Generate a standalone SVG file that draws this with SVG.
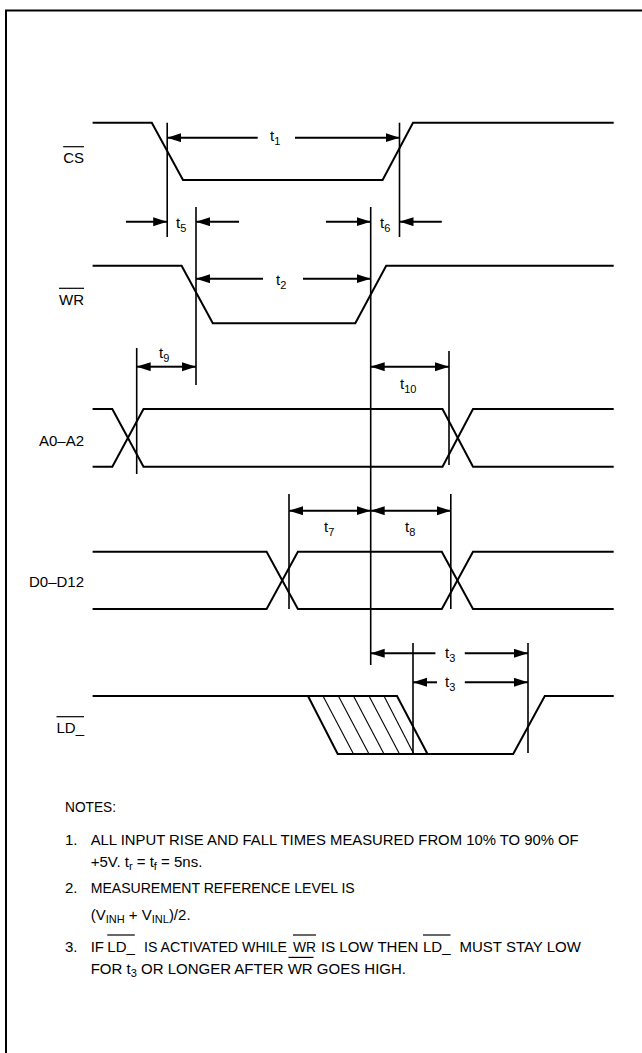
<svg xmlns="http://www.w3.org/2000/svg" width="642" height="1053" viewBox="0 0 642 1053">
<style>
.sig{fill:none;stroke:#000;stroke-width:2;stroke-linejoin:miter}
.ref{stroke:#000;stroke-width:1.6;fill:none}
.dim{stroke:#000;stroke-width:2;marker-end:url(#ah)}
.hat{stroke:#000;stroke-width:1.1;fill:none}
.ov{stroke:#000;stroke-width:1.2}
text{font-family:"Liberation Sans",Arial,Helvetica,sans-serif;fill:#000}
.lbl{font-size:15px;text-anchor:end}
.tk{font-size:15px}
.nt{font-size:15px}
</style>
<defs>
<marker id="ah" markerUnits="userSpaceOnUse" markerWidth="14" markerHeight="10" refX="14" refY="4.5" orient="auto">
<path d="M0,0 L14,4.5 L0,9 Z" fill="#000"/>
</marker>
</defs>
<rect width="642" height="1053" fill="#fff"/>
<path d="M6,1053 V10.5 H642" fill="none" stroke="#000" stroke-width="2"/>

<g id="sig-cs">
<path class="sig" d="M92.6,122.7 H151.8 L183,180 H382.6 L413,122.7 H613.7"/>
<text class="lbl" x="84" y="163.3">CS</text>
<line class="ov" x1="63.2" y1="146.7" x2="84" y2="146.7"/>
</g>
<g id="sig-wr">
<path class="sig" d="M92.6,265.7 H181.6 L212.8,323.3 H355.3 L386.2,265.7 H613.7"/>
<text class="lbl" x="84" y="305">WR</text>
<line class="ov" x1="59" y1="288.3" x2="84" y2="288.3"/>
</g>
<g id="sig-a">
<path class="sig" d="M92.6,409 H112.3 L143.5,466.7 H442.5 L473,409 H613.7"/>
<path class="sig" d="M92.6,466.7 H112.3 L143.5,409 H442.5 L473,466.7 H613.7"/>
<text class="lbl" x="84" y="446">A0–A2</text>
</g>
<g id="sig-d">
<path class="sig" d="M92.6,551.7 H266.6 L297.9,609 H441.8 L473,551.7 H613.7"/>
<path class="sig" d="M92.6,609 H266.6 L297.9,551.7 H441.8 L473,609 H613.7"/>
<text class="lbl" x="84" y="587.3">D0–D12</text>
</g>
<g id="sig-ld">
<path class="sig" d="M92.6,696 H397 L427.5,754"/>
<path class="sig" d="M308,696 L337.7,754 H513.2 L544.8,696 H613.7"/>
<g class="hat">
<line x1="323" y1="696" x2="353.5" y2="754"/>
<line x1="338.4" y1="696" x2="369" y2="754"/>
<line x1="353.5" y1="696" x2="384" y2="754"/>
<line x1="369" y1="696" x2="399.5" y2="754"/>
<line x1="384" y1="696" x2="413.8" y2="754"/>
</g>
<text class="lbl" x="84" y="733">LD_</text>
<line class="ov" x1="56.5" y1="716.7" x2="84" y2="716.7"/>
</g>

<g id="connectors">
<g class="ref">
<line x1="167.2" y1="122.7" x2="167.2" y2="237"/>
<line x1="399.5" y1="122.7" x2="399.5" y2="237"/>
<line x1="196" y1="207" x2="196" y2="385"/>
<line x1="370.7" y1="207" x2="370.7" y2="665"/>
<line x1="136.7" y1="348" x2="136.7" y2="474"/>
<line x1="449" y1="351" x2="449" y2="465"/>
<line x1="289" y1="494" x2="289" y2="609"/>
<line x1="450.8" y1="494" x2="450.8" y2="609"/>
<line x1="413" y1="643" x2="413" y2="754"/>
<line x1="528" y1="643" x2="528" y2="753"/>
</g>
<line class="dim" x1="257.7" y1="137.7" x2="167.2" y2="137.7"/>
<line class="dim" x1="295" y1="137.7" x2="399.5" y2="137.7"/>
<line class="dim" x1="126" y1="221.7" x2="167.2" y2="221.7"/>
<line class="dim" x1="239" y1="221.7" x2="196" y2="221.7"/>
<line class="dim" x1="326" y1="221.7" x2="370.7" y2="221.7"/>
<line class="dim" x1="441.8" y1="221.7" x2="399.5" y2="221.7"/>
<line class="dim" x1="263" y1="278.7" x2="196" y2="278.7"/>
<line class="dim" x1="303" y1="278.7" x2="370.7" y2="278.7"/>
<line class="dim" x1="166" y1="366.7" x2="136.7" y2="366.7"/>
<line class="dim" x1="166" y1="366.7" x2="196" y2="366.7"/>
<line class="dim" x1="410" y1="366.7" x2="370.7" y2="366.7"/>
<line class="dim" x1="410" y1="366.7" x2="449" y2="366.7"/>
<line class="dim" x1="330" y1="510.7" x2="289" y2="510.7"/>
<line class="dim" x1="330" y1="510.7" x2="370.7" y2="510.7"/>
<line class="dim" x1="410" y1="510.7" x2="370.7" y2="510.7"/>
<line class="dim" x1="410" y1="510.7" x2="450.8" y2="510.7"/>
<line class="dim" x1="435.4" y1="653.3" x2="370.7" y2="653.3"/>
<line class="dim" x1="464.8" y1="653.3" x2="528" y2="653.3"/>
<line class="dim" x1="437" y1="682.3" x2="413" y2="682.3"/>
<line class="dim" x1="464.8" y1="682.3" x2="528" y2="682.3"/>
<g class="tk">
<text x="270" y="141">t<tspan dy="3.5" font-size="11">1</tspan></text>
<text x="176" y="228">t<tspan dy="3.5" font-size="11">5</tspan></text>
<text x="380" y="228">t<tspan dy="3.5" font-size="11">6</tspan></text>
<text x="276" y="285">t<tspan dy="3.5" font-size="11">2</tspan></text>
<text x="159" y="358">t<tspan dy="3.5" font-size="11">9</tspan></text>
<text x="400" y="389">t<tspan dy="3.5" font-size="11">10</tspan></text>
<text x="324" y="532">t<tspan dy="3.5" font-size="11">7</tspan></text>
<text x="405" y="532">t<tspan dy="3.5" font-size="11">8</tspan></text>
<text x="445" y="658">t<tspan dy="3.5" font-size="11">3</tspan></text>
<text x="445" y="687">t<tspan dy="3.5" font-size="11">3</tspan></text>
</g>
</g>

<g id="notes" class="nt">
<text x="65" y="811.7" textLength="51" lengthAdjust="spacingAndGlyphs">NOTES:</text>
<text x="65" y="845">1.</text>
<text x="90.7" y="845" textLength="488" lengthAdjust="spacingAndGlyphs">ALL INPUT RISE AND FALL TIMES MEASURED FROM 10% TO 90% OF</text>
<text x="90.7" y="866.7">+5V. t<tspan dy="3" font-size="11">r</tspan><tspan dy="-3"> = t</tspan><tspan dy="3" font-size="11">f</tspan><tspan dy="-3"> = 5ns.</tspan></text>
<text x="65" y="893.3">2.</text>
<text x="90.7" y="893.3" textLength="264" lengthAdjust="spacingAndGlyphs">MEASUREMENT REFERENCE LEVEL IS</text>
<text x="90.7" y="920">(V<tspan dy="3" font-size="11">INH</tspan><tspan dy="-3"> + V</tspan><tspan dy="3" font-size="11">INL</tspan><tspan dy="-3">)/2.</tspan></text>
<text x="65" y="951.7">3.</text>
<text y="951.7"><tspan x="90.7">IF</tspan><tspan x="107.3">LD_</tspan><tspan x="144" textLength="143" lengthAdjust="spacingAndGlyphs">IS ACTIVATED WHILE</tspan><tspan x="293" textLength="23" lengthAdjust="spacingAndGlyphs">WR</tspan><tspan x="321">IS LOW THEN</tspan><tspan x="423">LD_</tspan><tspan x="459.5">MUST STAY LOW</tspan></text>
<line class="ov" x1="107.3" y1="935" x2="134.8" y2="935"/>
<line class="ov" x1="293" y1="935" x2="316" y2="935"/>
<line class="ov" x1="423" y1="935" x2="450.5" y2="935"/>
<text x="90.7" y="974">FOR t<tspan dy="3" font-size="11">3</tspan><tspan dy="-3"> OR LONGER AFTER WR GOES HIGH.</tspan></text>
<line class="ov" x1="288.5" y1="957.4" x2="313.5" y2="957.4"/>
</g>
</svg>
